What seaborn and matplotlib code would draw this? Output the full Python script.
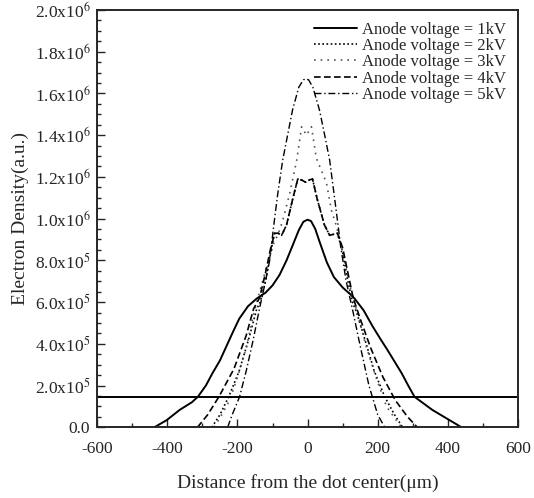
import numpy as np
import pandas as pd
import seaborn as sns
import matplotlib
matplotlib.use("Agg")
import matplotlib.pyplot as plt
from matplotlib.ticker import MultipleLocator, FixedLocator

# values in units of 1e5 (a.u.), x in micrometres
x_1kv = [-437, -402, -365, -330, -313, -290, -271, -250, -231, -212, -195, -170, -145, -120, -100, -80, -60,
         -43, -25, -12, 0, 10, 22, 34, 55, 75, 100, 120, 134, 160, 185, 207, 228, 248, 268, 287, 305,
         356, 405, 439]
y_1kv = [0, 0.34, 0.83, 1.2, 1.46, 2.0, 2.6, 3.2, 3.9, 4.6, 5.2, 5.8, 6.17, 6.45, 6.8, 7.3, 8.0,
         8.7, 9.45, 9.85, 9.95, 9.88, 9.5, 8.9, 7.9, 7.2, 6.7, 6.4, 6.17, 5.6, 4.85, 4.25, 3.7, 3.15, 2.6, 2.0, 1.46,
         0.83, 0.34, 0]

x_2kv = [-273, -250, -225, -195, -165, -145, -135, -120, -105, -94, -84, -74, -60, -43, -28, -17, -6, 4, 14,
         28, 48, 63, 74, 85, 100, 115, 128, 140, 160, 190, 220, 248, 271]
y_2kv = [0, 0.6, 1.46, 2.7, 4.4, 5.68, 6.0, 7.0, 8.4, 9.3, 9.3, 9.2, 9.7, 10.9, 11.9, 11.85, 11.75, 11.85, 11.9,
         10.9, 9.7, 9.2, 9.25, 9.3, 8.4, 7.0, 6.0, 5.5, 4.4, 2.7, 1.46, 0.6, 0]

x_3kv = [-266, -245, -222, -200, -175, -154, -135, -115, -95, -85, -71, -51, -31, -17, -3, 11,
         25, 42, 54, 68, 83, 100, 120, 140, 165, 195, 225, 250, 268]
y_3kv = [0, 0.6, 1.3, 2.4, 3.8, 5.4, 6.6, 7.8, 8.9, 9.2, 9.9, 11.2, 12.8, 14.4, 14.0, 14.4,
         12.9, 12.2, 11.7, 10.4, 9.6, 8.4, 6.8, 5.6, 4.0, 2.4, 1.0, 0.4, 0]

x_4kv = [-314, -285, -253, -210, -175, -154, -137, -120, -105, -94, -84, -74, -60, -43, -28, -17, -6, 4, 14,
         28, 48, 63, 74, 85, 100, 115, 130, 150, 180, 215, 250, 285, 313]
y_4kv = [0, 0.6, 1.46, 2.8, 4.4, 5.68, 6.2, 7.4, 8.6, 9.3, 9.3, 9.2, 9.7, 10.9, 11.9, 11.85, 11.75, 11.85, 11.9,
         10.9, 9.7, 9.2, 9.25, 9.3, 8.6, 7.4, 6.2, 5.2, 3.8, 2.4, 1.3, 0.5, 0]

x_5kv = [-228, -215, -194, -175, -155, -137, -120, -108, -97, -85, -71, -57, -43, -25, -12, -5,
         3, 15, 34, 50, 63, 73, 83, 95, 110, 130, 150, 175, 200, 220]
y_5kv = [0, 0.6, 1.46, 2.7, 4.2, 5.7, 7.0, 8.0, 9.6, 11.2, 12.8, 14.0, 15.2, 16.3, 16.65, 16.7,
         16.65, 16.3, 15.2, 13.9, 12.8, 11.5, 10.2, 8.6, 7.0, 5.5, 3.9, 2.0, 0.6, 0]

threshold = 1.46

series = [
    ("Anode voltage = 1kV", x_1kv, y_1kv, "-", 1.4, "black"),
    ("Anode voltage = 2kV", x_2kv, y_2kv, (0, (1, 1.5)), 1.2, "black"),
    ("Anode voltage = 3kV", x_3kv, y_3kv, (0, (1, 3)), 1.2, "#555555"),
    ("Anode voltage = 4kV", x_4kv, y_4kv, (0, (4, 2)), 1.2, "black"),
    ("Anode voltage = 5kV", x_5kv, y_5kv, (0, (5, 2, 1, 2)), 1.0, "black"),
]

y_ticks = [0, 2, 4, 6, 8, 10, 12, 14, 16, 18, 20]
y_tick_labels = ["0.0", "2.0x10$^5$", "4.0x10$^5$", "6.0x10$^5$", "8.0x10$^5$", "1.0x10$^6$",
                 "1.2x10$^6$", "1.4x10$^6$", "1.6x10$^6$", "1.8x10$^6$", "2.0x10$^6$"]
x_ticks = [-600, -400, -200, 0, 200, 400, 600]

sns.set_style("ticks")
plt.rcParams["font.family"] = ["Liberation Serif", "DejaVu Serif"]
plt.rcParams["mathtext.fontset"] = "stix"
plt.rcParams["axes.unicode_minus"] = False

fig = plt.figure(figsize=(5.34, 4.98), dpi=100)
ax = fig.add_axes([0.182, 0.142, 0.788, 0.838])

for label, xs, ys, ls, lw, c in series:
    sns.lineplot(x=xs, y=ys, ax=ax, color=c, linestyle=ls, linewidth=lw, label=label)

ax.axhline(threshold, color="black", linewidth=1.4)

ax.set_xlim(-600, 600)
ax.set_ylim(0, 20)
ax.xaxis.set_major_locator(FixedLocator(x_ticks))
ax.xaxis.set_minor_locator(MultipleLocator(100))
ax.yaxis.set_major_locator(FixedLocator(y_ticks))
ax.set_yticklabels(y_tick_labels)
ax.yaxis.set_minor_locator(MultipleLocator(0.5))
ax.tick_params(which="both", direction="in", labelsize=12.5, width=1)
ax.tick_params(which="major", length=6)
ax.tick_params(which="minor", length=3)
ax.tick_params(axis="x", which="major", pad=10)
ax.tick_params(axis="y", which="major", pad=5)
for sp in ax.spines.values():
    sp.set_linewidth(1.4)
    sp.set_visible(True)

ax.set_xlabel("Distance from the dot center(\u03bcm)", fontsize=14, labelpad=12)
ax.set_ylabel("Electron Density(a.u.)", fontsize=14)

leg = ax.legend(loc="upper right", frameon=False, fontsize=12, handlelength=2.6,
                labelspacing=0.02, borderaxespad=0.3, handletextpad=0.3)

fig.savefig("out.png", dpi=100)
